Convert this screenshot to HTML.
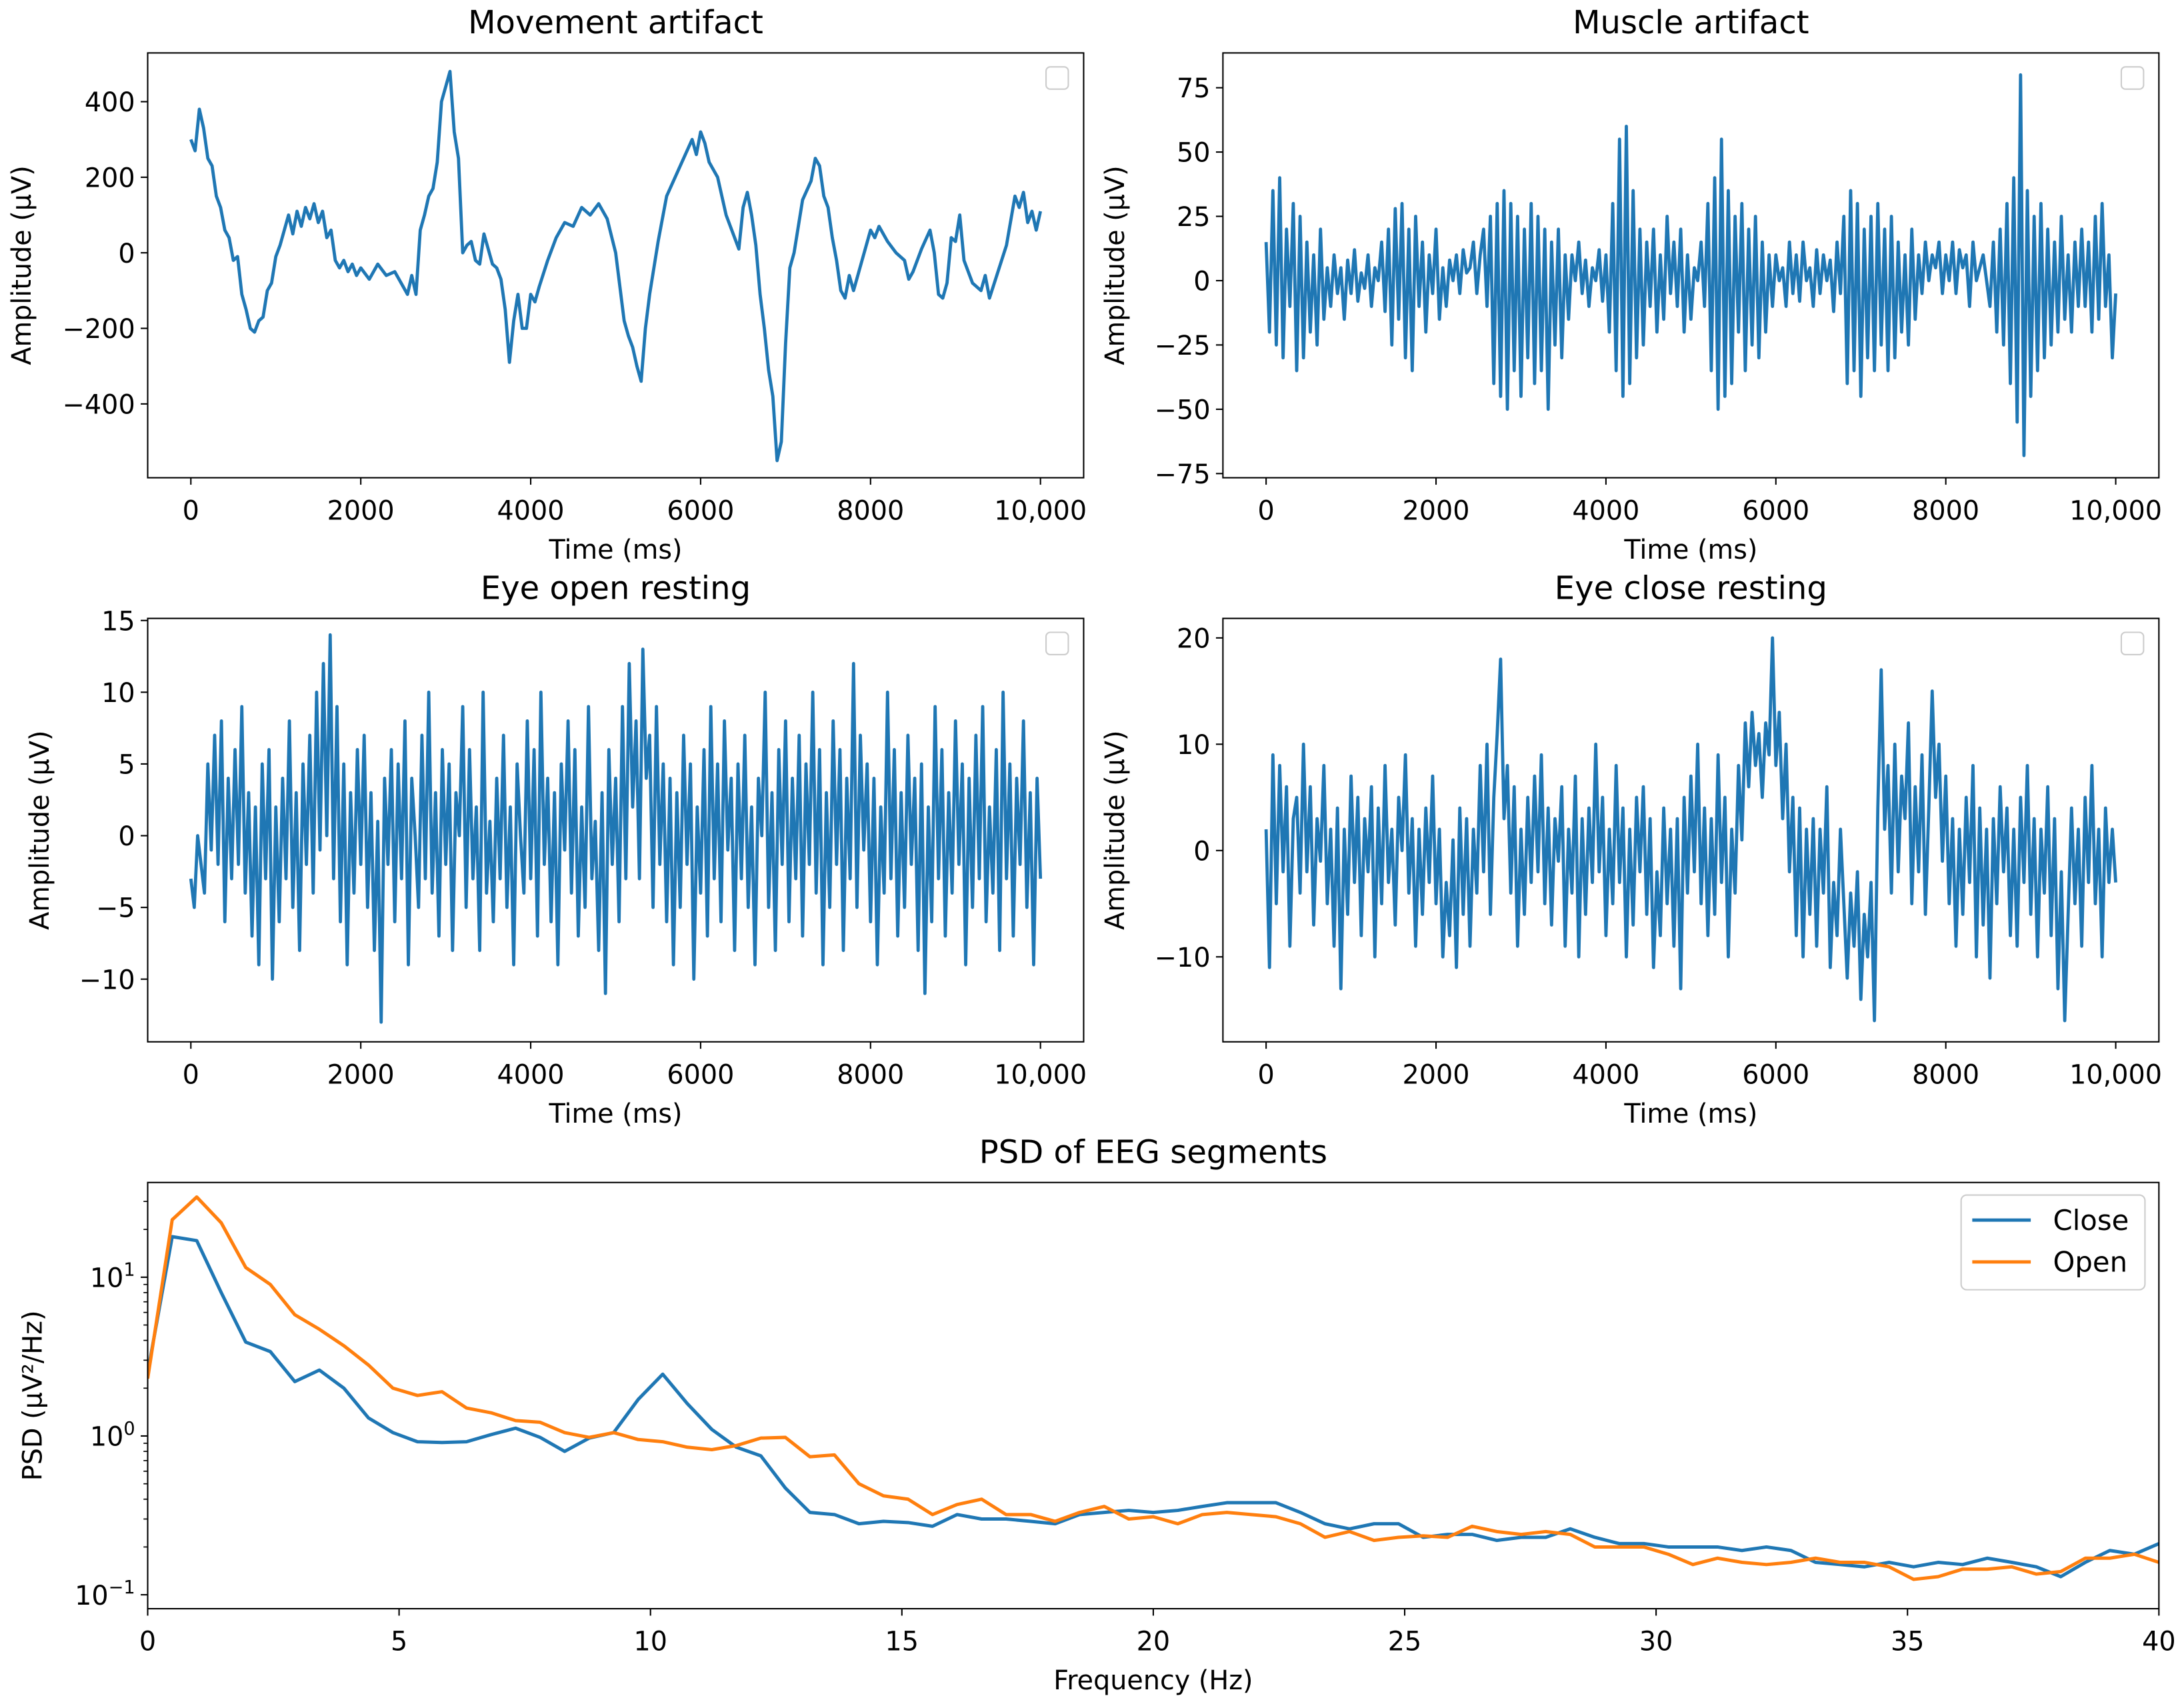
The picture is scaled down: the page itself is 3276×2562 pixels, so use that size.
<!DOCTYPE html>
<html><head><meta charset="utf-8"><style>
html,body{margin:0;padding:0;background:#fff}
svg{display:block}
text{font-family:"DejaVu Sans","Liberation Sans",sans-serif;fill:#000}
</style></head><body>
<svg id="fig" width="3276" height="2562" viewBox="0 0 1568 1226.3" xmlns="http://www.w3.org/2000/svg"></svg>
<script>
// ---- data ----
const movementTimes=[0,50,100,150,200,250,300,350,400,450,500,550,600,650,700,750,800,850,900,950,1000,1050,1100,1150,1200,1250,1300,1350,1400,1450,1500,1550,1600,1650,1700,1750,1800,1850,1900,1950,2000,2100,2200,2300,2400,2500,2550,2600,2650,2700,2750,2800,2850,2900,2950,3000,3050,3100,3150,3200,3250,3300,3350,3400,3450,3500,3550,3600,3650,3700,3750,3800,3850,3900,3950,4000,4050,4100,4200,4300,4400,4500,4600,4700,4800,4900,5000,5050,5100,5150,5200,5250,5300,5350,5400,5500,5600,5700,5800,5900,5950,6000,6050,6100,6200,6300,6400,6450,6500,6550,6600,6650,6700,6750,6800,6850,6900,6950,7000,7050,7100,7200,7300,7350,7400,7450,7500,7550,7600,7650,7700,7750,7800,7900,8000,8050,8100,8200,8300,8400,8450,8500,8600,8700,8750,8800,8850,8900,8950,9000,9050,9100,9200,9300,9350,9400,9500,9600,9700,9750,9800,9850,9900,9950,10000];
const movementValues=[300,270,380,330,250,230,150,120,60,40,-20,-10,-110,-150,-200,-210,-180,-170,-100,-80,-10,20,60,100,50,110,70,120,90,130,80,110,40,60,-20,-40,-20,-50,-30,-60,-40,-70,-30,-60,-50,-90,-110,-60,-110,60,100,150,170,240,400,440,480,320,250,0,20,30,-20,-30,50,10,-30,-40,-70,-150,-290,-180,-110,-200,-200,-110,-130,-90,-20,40,80,70,120,100,130,90,0,-90,-180,-220,-250,-300,-340,-200,-110,30,150,200,250,300,260,320,290,240,200,100,40,10,120,160,100,20,-110,-200,-310,-380,-550,-500,-240,-40,0,140,190,250,230,150,120,40,-20,-100,-120,-60,-100,-20,60,40,70,30,0,-20,-70,-50,10,60,0,-110,-120,-80,40,30,100,-20,-80,-100,-60,-120,-50,20,150,120,160,80,110,60,110];
const muscleValues=[15,-20,35,-25,40,-30,20,-10,30,-35,25,-30,15,-20,10,-25,20,-15,5,-10,10,-5,5,-15,8,-5,12,-8,3,-3,10,-10,5,0,15,-12,20,-25,28,-15,30,-30,20,-35,25,-10,15,-20,10,-5,20,-15,5,-10,8,0,10,-5,12,3,5,15,-5,10,20,-10,25,-40,30,-45,35,-50,30,-35,25,-45,20,-30,30,-40,25,-35,20,-50,15,-25,20,-30,10,-15,10,0,15,-5,8,-10,5,0,12,-8,10,-20,30,-35,55,-45,60,-40,35,-30,20,-25,15,-10,20,-20,10,-15,25,-5,15,-10,20,-20,10,-15,5,0,15,-10,30,-35,40,-50,55,-45,35,-40,25,-20,30,-35,20,-25,25,-30,15,-20,10,-10,10,0,5,-10,15,-5,10,-8,15,0,5,-10,12,-5,10,0,8,-12,15,-5,25,-40,35,-35,30,-45,20,-30,25,-35,30,-25,20,-35,25,-30,15,-20,10,-25,20,-15,10,-5,15,0,10,5,15,-5,10,0,15,-5,12,5,10,-10,15,0,5,10,0,-10,15,-20,20,-25,30,-40,40,-55,80,-68,35,-45,25,-35,30,-30,20,-25,15,-20,25,-15,10,-20,15,-10,20,-10,15,-20,25,-15,30,-10,10,-30,-5];
const openValues=[-3,-5,0,-2,-4,5,-1,7,-2,8,-6,4,-3,6,-2,9,-4,3,-7,2,-9,5,-3,6,-10,2,-6,4,-3,8,-5,3,-8,5,-2,7,-4,10,-1,12,0,14,-3,9,-6,5,-9,3,-4,6,-2,7,-5,3,-8,1,-13,4,-2,6,-6,5,-3,8,-9,4,0,-5,7,-3,10,-4,3,-7,6,-2,5,-8,3,0,9,-5,6,-3,2,-8,10,-4,1,-6,4,-3,7,-5,2,-9,5,0,-4,8,-3,6,-7,10,-2,4,-6,3,-9,5,-1,8,-4,6,-7,2,-5,9,-3,1,-8,3,-11,6,-2,4,-6,9,-3,12,2,8,-3,13,4,7,-5,9,-2,5,-6,4,-9,3,-5,7,-2,5,-10,2,-4,6,-7,9,-3,5,-6,8,-1,4,-8,5,-3,7,-5,2,-9,4,0,10,-5,3,-8,6,-2,8,-6,4,-3,7,-7,5,-2,10,-4,6,-9,3,-5,8,-2,6,-8,4,-3,12,-5,7,-1,5,-6,4,-9,2,-4,10,-3,6,-7,3,-5,7,-2,4,-8,5,-11,2,-6,9,-3,6,-7,3,-4,8,-2,5,-9,4,-5,7,-3,9,-6,2,-4,6,-8,10,-3,5,-7,4,-2,8,-5,3,-9,4,-3];
const closeValues=[2,-11,9,-5,8,-2,6,-9,3,5,-4,10,-2,6,-7,3,-1,8,-5,2,-9,4,-13,2,-6,7,-3,5,-8,3,-2,6,-10,4,-5,8,-3,2,-7,5,0,9,-4,3,-9,2,-6,4,-3,7,-5,2,-10,-3,-8,1,-11,4,-6,3,-9,2,-4,8,-2,10,-6,5,11,18,3,8,-4,6,-9,2,-6,5,-3,7,-2,9,-5,4,-7,3,-1,6,-9,2,-4,7,-10,3,-6,4,-3,10,-2,5,-8,2,-5,8,-3,4,-10,2,-7,5,-2,6,-6,3,-11,-2,-8,4,-5,2,-9,3,-13,5,-4,7,-2,10,-5,4,-8,3,-6,9,-3,5,-10,2,-4,8,1,12,6,13,8,11,5,12,9,20,8,13,3,10,-2,5,-8,4,-10,2,-6,3,-9,2,-4,6,-11,-3,-8,2,-5,-12,-4,-9,-2,-14,-6,-10,-3,-16,4,17,2,8,-4,10,-2,7,3,12,-5,6,-2,9,-6,4,15,5,10,-1,7,-5,3,-9,2,-6,5,-3,8,-10,4,-7,2,-12,3,-5,6,-2,4,-8,2,-9,5,-3,8,-6,3,-10,2,-4,6,-8,3,-13,-2,-16,-6,4,-5,2,-9,5,-3,8,-5,2,-10,4,-3,2,-3];
const psdClose=[2.5,18,17,8,3.9,3.4,2.2,2.6,2.0,1.3,1.05,0.92,0.91,0.92,1.02,1.12,0.98,0.8,0.97,1.05,1.7,2.45,1.6,1.1,0.85,0.75,0.47,0.33,0.32,0.28,0.29,0.285,0.27,0.32,0.3,0.3,0.29,0.28,0.32,0.33,0.34,0.33,0.34,0.36,0.38,0.38,0.38,0.33,0.28,0.26,0.28,0.28,0.23,0.24,0.24,0.22,0.23,0.23,0.26,0.23,0.21,0.21,0.2,0.2,0.2,0.19,0.2,0.19,0.16,0.155,0.15,0.16,0.15,0.16,0.155,0.17,0.16,0.15,0.13,0.16,0.19,0.18,0.21];
const psdOpen=[2.3,23,32,22,11.5,9,5.8,4.7,3.7,2.8,2.0,1.8,1.9,1.5,1.4,1.25,1.22,1.05,0.98,1.05,0.95,0.92,0.85,0.82,0.87,0.97,0.98,0.74,0.76,0.5,0.42,0.4,0.32,0.37,0.4,0.32,0.32,0.29,0.33,0.36,0.3,0.31,0.28,0.32,0.33,0.32,0.31,0.28,0.23,0.25,0.22,0.23,0.235,0.23,0.27,0.25,0.24,0.25,0.24,0.2,0.2,0.2,0.18,0.155,0.17,0.16,0.155,0.16,0.17,0.16,0.16,0.15,0.125,0.13,0.145,0.145,0.15,0.135,0.14,0.17,0.17,0.18,0.16];
const timeTicks=[0,2000,4000,6000,8000,10000];
const timeTickLabels=["0","2000","4000","6000","8000","10,000"];
const freqTicks=[0,5,10,15,20,25,30,35,40];
const C1="#1f77b4",C2="#ff7f0e";
const svg=document.getElementById('fig');
const NS="http://www.w3.org/2000/svg";
function mk(tag,attrs,parent){const e=document.createElementNS(NS,tag);for(const k in attrs)e.setAttribute(k,attrs[k]);(parent||svg).appendChild(e);return e;}
function txt(s,x,y,size,anchor,parent,rot){const t=mk('text',{x:x,y:y,'font-size':size,'text-anchor':anchor||'middle'},parent);if(rot)t.setAttribute('transform',`rotate(-90 ${x} ${y})`);t.textContent=s;return t;}

function timePanel(name,title,times,vals,box,yA,yB,yticks,ytx){
  const g=mk('g',{});
  
  
  const xs=t=>box.x0+31+(t/10000)*(box.x1-box.x0-62);
  const ys=v=>yA.p+(v-yA.v)*(yB.p-yA.p)/(yB.v-yA.v);
  let d='';vals.forEach((v,i)=>{const t=times?times[i]:i*10000/(vals.length-1);d+=(i?'L':'M')+xs(t).toFixed(2)+' '+ys(v).toFixed(2);});
  const ln=mk('path',{d:d,fill:'none',stroke:C1,'stroke-width':2.3,'stroke-linejoin':'round'},g);
  
  
  const fr=mk('rect',{x:box.x0,y:box.y0,width:box.x1-box.x0,height:box.y1-box.y0,fill:'none',stroke:'#000','stroke-width':1},g);
  
  
  timeTicks.forEach((t,i)=>{const x=xs(t);mk('line',{x1:x,x2:x,y1:box.y1,y2:box.y1+5,stroke:'#000'},g);txt(timeTickLabels[i],x,box.y1+30,19,'middle',g);});
  yticks.forEach(v=>{const y=ys(v);mk('line',{x1:box.x0-5,x2:box.x0,y1:y,y2:y,stroke:'#000'},g);txt(v<0?'\u2212'+(-v):String(v),box.x0-9,y+7,19,'end',g);});
  const tt=txt(title,(box.x0+box.x1)/2,box.y0-14,23,'middle',g);
  
  
  const xl=txt('Time (ms)',(box.x0+box.x1)/2,box.y1+58,19,'middle',g);
  
  
  const yl=txt('Amplitude (\u03bcV)',ytx,(box.y0+box.y1)/2,19,'middle',g,true);
  
  
  const lg=mk('rect',{x:box.x1-27,y:box.y0+10,width:16,height:16,rx:3,fill:'#fff',stroke:'#ccc'},g);
  
  
}
timePanel('movement-panel','Movement artifact',movementTimes,movementValues,{x0:106,x1:778,y0:38,y1:343},{v:400,p:73},{v:-400,p:290},[400,200,0,-200,-400],22);
timePanel('muscle-panel','Muscle artifact',null,muscleValues,{x0:878,x1:1550,y0:38,y1:343},{v:75,p:63},{v:-75,p:340},[75,50,25,0,-25,-50,-75],807);
timePanel('eye-open-panel','Eye open resting',null,openValues,{x0:106,x1:778,y0:444,y1:748},{v:10,p:497},{v:-10,p:703},[15,10,5,0,-5,-10],35);
timePanel('eye-close-panel','Eye close resting',null,closeValues,{x0:878,x1:1550,y0:444,y1:748},{v:20,p:458},{v:-10,p:687},[20,10,0,-10],807);
// PSD
(function(){
  const g=mk('g',{});
  
  
  const x0=106,x1=1550,y0=849,y1=1155;
  const xs=f=>x0+f*(x1-x0)/40;
  const ys=v=>1031-114*Math.log10(v);
  const cp=mk('clipPath',{id:'psdclip'},g);mk('rect',{x:x0,y:y0,width:x1-x0,height:y1-y0},cp);
  [[psdClose,C1,'close-line'],[psdOpen,C2,'open-line']].forEach(([arr,col,nm])=>{
    let d='';arr.forEach((v,i)=>{d+=(i?'L':'M')+xs(i*40/(arr.length-1)).toFixed(2)+' '+ys(v).toFixed(2);});
    const p=mk('path',{d:d,fill:'none',stroke:col,'stroke-width':2.4,'clip-path':'url(#psdclip)','stroke-linejoin':'round'},g);
    
    
  });
  const fr=mk('rect',{x:x0,y:y0,width:x1-x0,height:y1-y0,fill:'none',stroke:'#000'},g);
  
  
  freqTicks.forEach(f=>{const x=xs(f);mk('line',{x1:x,x2:x,y1:y1,y2:y1+5,stroke:'#000'},g);txt(String(f),x,y1+30,19,'middle',g);});
  [-1,0,1].forEach(e=>{const y=ys(Math.pow(10,e));mk('line',{x1:x0-5,x2:x0,y1:y,y2:y,stroke:'#000'},g);
    const t=mk('text',{x:x0-9,y:y+7,'font-size':19,'text-anchor':'end'},g);t.innerHTML='10<tspan dy="-8" font-size="13">'+(e<0?'\u22121':String(e))+'</tspan>';});
  for(let e=-1;e<=1;e++)for(let m=2;m<10;m++){const y=ys(m*Math.pow(10,e));if(y>y0&&y<y1)mk('line',{x1:x0-3,x2:x0,y1:y,y2:y,stroke:'#000','stroke-width':0.8},g);}
  const tt=txt('PSD of EEG segments',(x0+x1)/2,y0-14,23,'middle',g);
  
  
  const xl=txt('Frequency (Hz)',(x0+x1)/2,y1+58,19,'middle',g);
  
  
  const yl=txt('PSD (\u03bcV\u00b2/Hz)',30,(y0+y1)/2,19,'middle',g,true);
  
  
  const lg=mk('g',{},g);
  
  
  mk('rect',{x:1408,y:858,width:132,height:68,rx:4,fill:'#fff',stroke:'#ccc'},lg);
  mk('line',{x1:1416,x2:1458,y1:876,y2:876,stroke:C1,'stroke-width':2.4},lg);
  const a=txt('Close',1474,883,20,'start',lg);
  mk('line',{x1:1416,x2:1458,y1:906,y2:906,stroke:C2,'stroke-width':2.4},lg);
  const b=txt('Open',1474,913,20,'start',lg);
})();
</script>
</body></html>
